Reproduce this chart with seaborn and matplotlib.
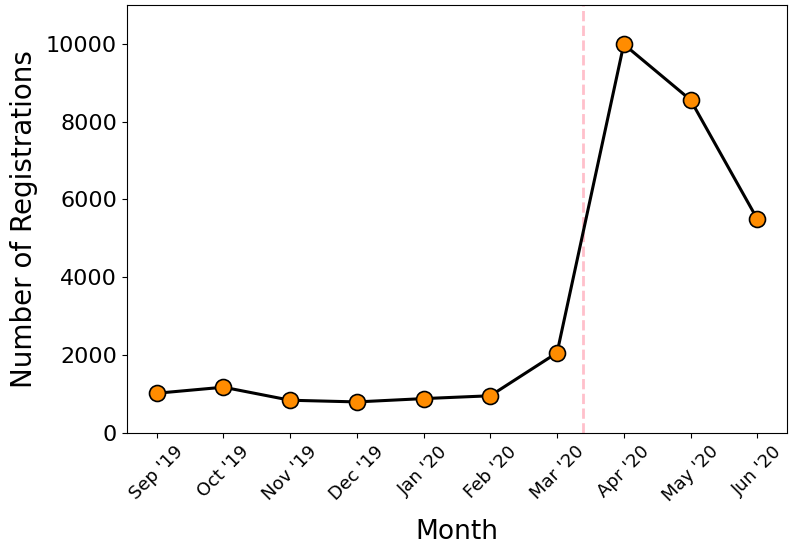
import pandas as pd
import matplotlib
matplotlib.use('Agg')
import matplotlib.pyplot as plt
import seaborn as sns

# monthly registrations
months = ["Sep '19", "Oct '19", "Nov '19", "Dec '19", "Jan '20", "Feb '20",
          "Mar '20", "Apr '20", "May '20", "Jun '20"]
registrations = [1020, 1175, 840, 797, 882, 955, 2060, 9990, 8560, 5500]

# lockdown marker, position between Mar and Apr
event_pos = 6.39

df = pd.DataFrame({'Month': months, 'Registrations': registrations})

fig, ax = plt.subplots(figsize=(7.92, 5.48), dpi=100)
sns.lineplot(data=df, x='Month', y='Registrations', ax=ax, color='black',
             linewidth=2.2, marker='o', markersize=11.5,
             markerfacecolor='darkorange', markeredgecolor='black',
             markeredgewidth=1.2, sort=False)
ax.axvline(event_pos, color='pink', linestyle='--', linewidth=2, zorder=0)

ax.set_ylim(0, 11000)
ax.set_xlim(-0.45, 9.45)
ax.set_yticks([0, 2000, 4000, 6000, 8000, 10000])
ax.set_xlabel('Month', fontsize=19, labelpad=10)
ax.set_ylabel('Number of Registrations', fontsize=20, labelpad=6)
ax.tick_params(axis='y', labelsize=16)
ax.tick_params(axis='x', labelsize=13, rotation=45)

plt.subplots_adjust(left=0.160, right=0.994, top=0.991, bottom=0.210)
plt.savefig('out.png')
